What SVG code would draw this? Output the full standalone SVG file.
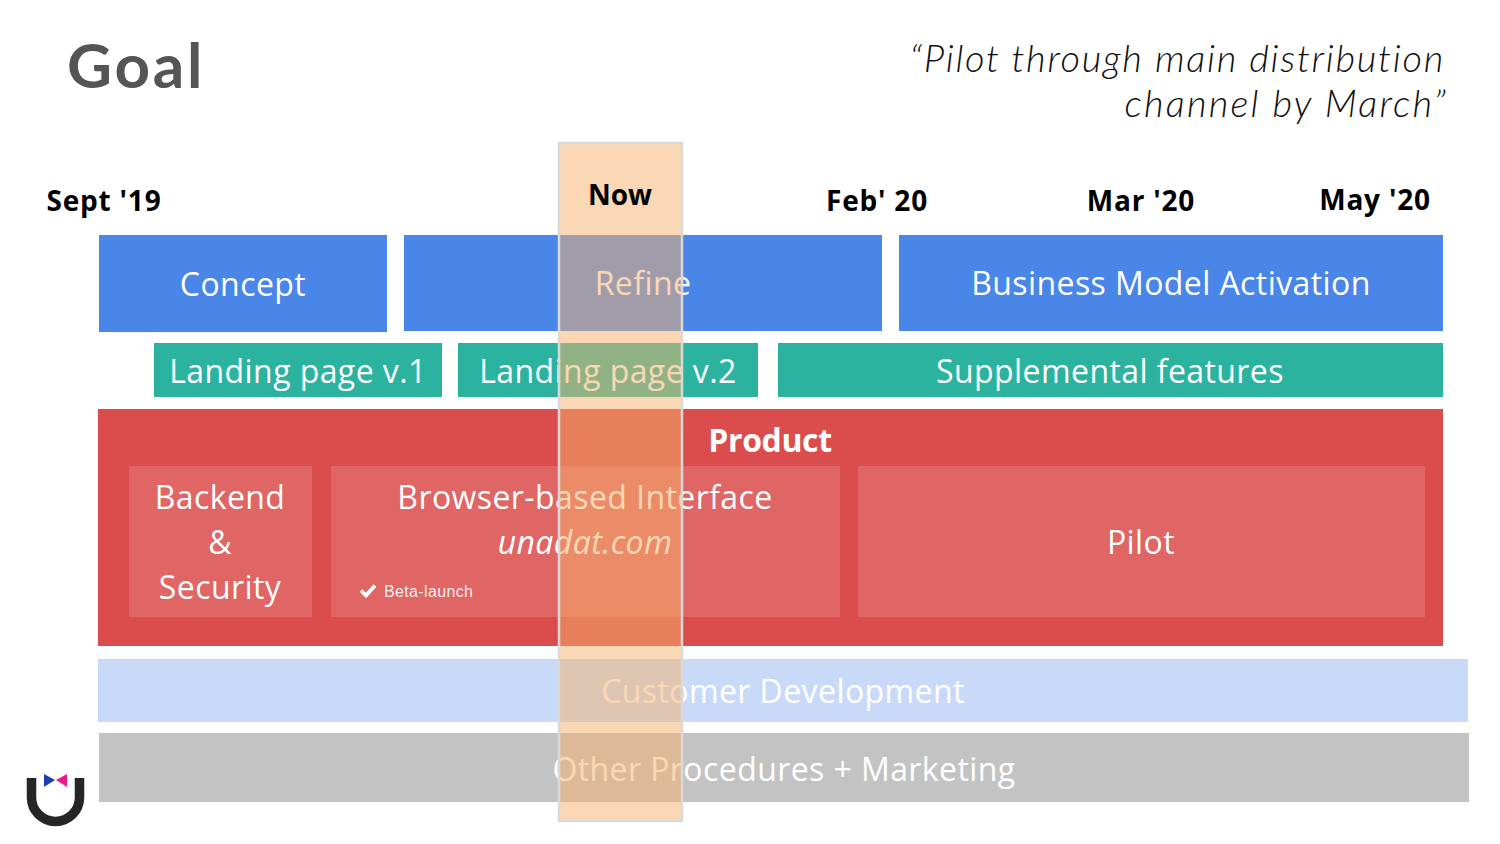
<svg xmlns="http://www.w3.org/2000/svg" width="1500" height="844" viewBox="0 0 1500 844">
<style>
text{font-family:"Open Sans","Noto Sans","DejaVu Sans",sans-serif}
.w{fill:#fff;font-size:32px;text-anchor:middle;letter-spacing:.42px}
.d{fill:#000;font-size:28px;font-weight:700;text-anchor:middle;letter-spacing:.8px}
.q{font-family:Lato,"Open Sans",sans-serif;font-style:italic;font-weight:300;font-size:38px;fill:#111;text-anchor:end}
.blue{fill:#4a86e8}.teal{fill:#2bb39f}.in{fill:#fff;fill-opacity:.14}
</style>
<rect width="1500" height="844" fill="#fff"/>
<g id="title"><text x="67" y="88" style="font-family:Lato,sans-serif;font-weight:700;font-size:62px;fill:#555;letter-spacing:2.8px">Goal</text></g>
<g id="quote"><text class="q" x="1445" y="72" style="letter-spacing:1.7px">“Pilot through main distribution</text><text class="q" x="1448" y="117" style="letter-spacing:2.2px">channel by March”</text></g>
<g id="dates">
<text class="d" x="104" y="211">Sept '19</text><text class="d" x="877" y="211">Feb' 20</text><text class="d" x="1141" y="211">Mar '20</text><text class="d" x="1375" y="210">May '20</text>
</g>
<g id="concept"><rect class="blue" x="99" y="235" width="288" height="97"/><text class="w" x="243" y="296">Concept</text></g>
<g id="refine"><rect class="blue" x="404" y="235" width="478" height="96"/><text class="w" x="643" y="295">Refine</text></g>
<g id="activation"><rect class="blue" x="899" y="235" width="544" height="96"/><text class="w" x="1171" y="295">Business Model Activation</text></g>
<g id="lp1"><rect class="teal" x="154" y="343" width="288" height="54"/><text class="w" x="298" y="383">Landing page v.1</text></g>
<g id="lp2"><rect class="teal" x="458" y="343" width="300" height="54"/><text class="w" x="608" y="383">Landing page v.2</text></g>
<g id="supplemental"><rect class="teal" x="778" y="343" width="665" height="54"/><text class="w" x="1110" y="383">Supplemental features</text></g>
<g id="product"><rect x="98" y="409" width="1345" height="237" fill="#db4c4c"/><text class="w" x="770" y="452" style="font-weight:700;letter-spacing:-.4px">Product</text></g>
<g id="backend"><rect class="in" x="129" y="466" width="183" height="151"/><text class="w" x="220" y="509">Backend</text><text class="w" x="220" y="554">&amp;</text><text class="w" x="220" y="599">Security</text></g>
<g id="browser"><rect class="in" x="331" y="466" width="509" height="151"/><text class="w" x="585" y="509">Browser-based Interface</text><text class="w" x="585" y="554" style="font-style:italic">unadat.com</text>
<path d="M361 590.500l5 5 9-10" fill="none" stroke="#fff" stroke-width="3.800"/><text x="384" y="597" style="font-family:'Liberation Sans',sans-serif;font-size:16px;fill:#fff;fill-opacity:.9;letter-spacing:.35px">Beta-launch</text></g>
<g id="pilot"><rect class="in" x="858" y="466" width="567" height="151"/><text class="w" x="1141" y="554">Pilot</text></g>
<g id="customer"><rect x="98" y="659" width="1370" height="63" fill="#c9daf8"/><text class="w" x="783" y="703">Customer Development</text></g>
<g id="other"><rect x="99" y="733" width="1370" height="69" fill="#c3c3c3"/><text class="w" x="784" y="781">Other Procedures + Marketing</text></g>
<g id="now"><rect x="559" y="143" width="123" height="678" fill="#f6b26b" fill-opacity=".5" stroke="#d9d9d9" stroke-width="2.500"/><text x="620" y="205" style="font-size:28px;font-weight:700;text-anchor:middle;fill:#000">Now</text></g>
<g id="logo"><path d="M31.500 778v19.500a24 24 0 0 0 48 0V778" fill="none" stroke="#262626" stroke-width="9.500"/><path d="M44 774l11 6-11 7z" fill="#1f3fb0"/><path d="M67 774l-11 6 11 7z" fill="#ee1a84"/></g>
</svg>
